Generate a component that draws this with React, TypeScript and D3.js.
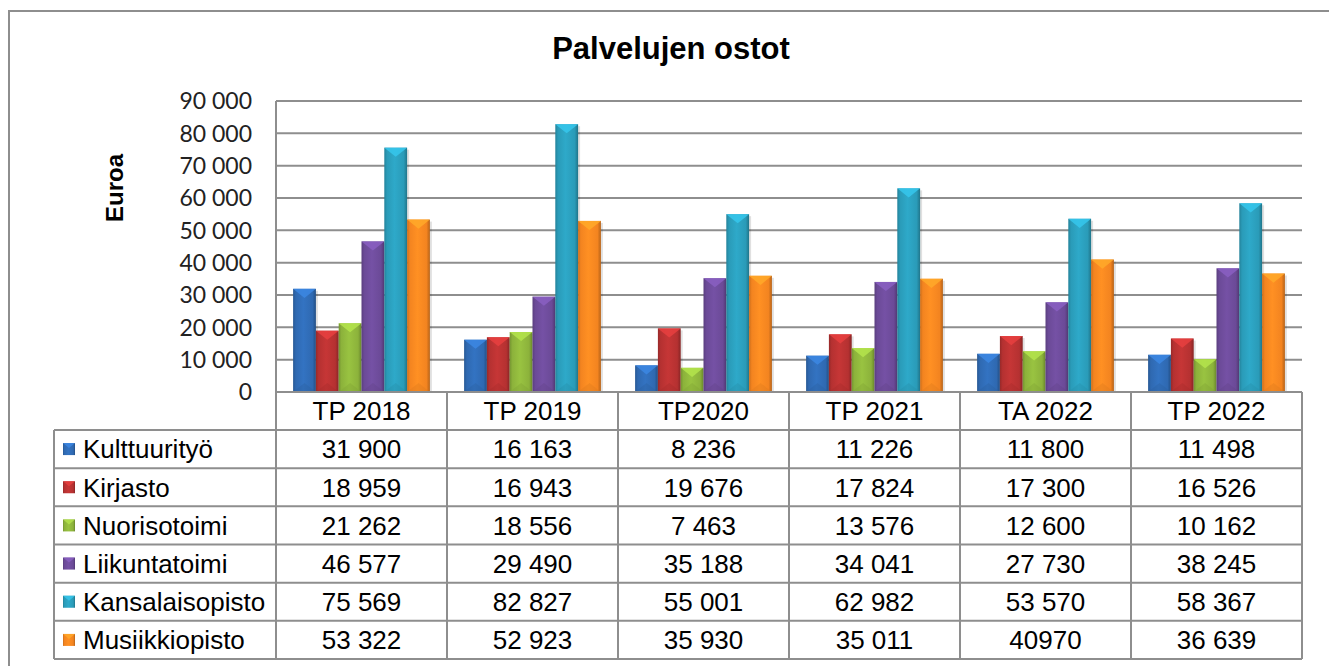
import React from "react";
import * as d3 from "d3";

const width = 1329;
const height = 666;

const categories = ["TP 2018", "TP 2019", "TP2020", "TP 2021", "TA 2022", "TP 2022"];
const seriesNames = [
  "Kulttuurityö",
  "Kirjasto",
  "Nuorisotoimi",
  "Liikuntatoimi",
  "Kansalaisopisto",
  "Musiikkiopisto",
];
const kulttuurityo = [31900, 16163, 8236, 11226, 11800, 11498];
const kirjasto = [18959, 16943, 19676, 17824, 17300, 16526];
const nuorisotoimi = [21262, 18556, 7463, 13576, 12600, 10162];
const liikuntatoimi = [46577, 29490, 35188, 34041, 27730, 38245];
const kansalaisopisto = [75569, 82827, 55001, 62982, 53570, 58367];
const musiikkiopisto = [53322, 52923, 35930, 35011, 40970, 36639];
const seriesColors = ["#2f69b1", "#b53131", "#8cb23b", "#6b4a97", "#2a9bb8", "#f38420"];
const yTicks = [0, 10000, 20000, 30000, 40000, 50000, 60000, 70000, 80000, 90000];
// the source table shows this one cell without a thousands separator
const plainCells = ["Musiikkiopisto|TA 2022"];

const seriesValues = [kulttuurityo, kirjasto, nuorisotoimi, liikuntatoimi, kansalaisopisto, musiikkiopisto];

const plot = { left: 276, right: 1302, top: 101, bottom: 392 };
const table = { left: 54, headerBottom: 430, bottom: 659 };
const gridColor = "#8e8e8e";

const fi = d3.formatLocale({ decimal: ",", thousands: " ", grouping: [3], currency: ["", " €"] });
const fmt = fi.format(",d");

export default function App() {
  const x0 = d3.scaleBand<string>().domain(categories).range([plot.left, plot.right]);
  const bw = x0.bandwidth() / 7.5;
  const x1 = d3
    .scaleBand<string>()
    .domain(seriesNames)
    .range([bw * 0.75, bw * 6.75]);
  const y = d3.scaleLinear().domain([0, 90000]).range([plot.bottom, plot.top]);
  const rowY = d3.scaleBand<string>().domain(seriesNames).range([table.headerBottom, table.bottom]);

  return (
    <svg width={width} height={height} style={{ display: "block", background: "#fff" }}>
      <style>{"body{margin:0}"}</style>
      <defs>
        {seriesColors.map((c, i) => {
          const base = d3.color(c)!;
          return (
            <linearGradient key={i} id={"bar" + i} x1="0" x2="1" y1="0" y2="0">
              <stop offset="0" stopColor={base.darker(0.5).formatHex()} />
              <stop offset="0.12" stopColor={base.formatHex()} />
              <stop offset="0.45" stopColor={base.brighter(0.25).formatHex()} />
              <stop offset="0.85" stopColor={base.formatHex()} />
              <stop offset="1" stopColor={base.darker(0.8).formatHex()} />
            </linearGradient>
          );
        })}
      </defs>

      {/* outer frame */}
      <rect x={9} y={11} width={width} height={height} fill="none" stroke={gridColor} strokeWidth={2} />

      <text
        x={671}
        y={59}
        textAnchor="middle"
        fontFamily="Liberation Sans, Arial, sans-serif"
        fontWeight="bold"
        fontSize={31}
      >
        Palvelujen ostot
      </text>

      <text
        transform="translate(123,188) rotate(-90)"
        textAnchor="middle"
        fontFamily="Liberation Sans, Arial, sans-serif"
        fontWeight="bold"
        fontSize={24}
      >
        Euroa
      </text>

      {/* gridlines and y ticks */}
      {yTicks.map((t) => (
        <g key={t}>
          {t > 0 && (
            <line x1={plot.left} x2={plot.right} y1={y(t)} y2={y(t)} stroke={gridColor} strokeWidth={2} />
          )}
          <text
            x={252}
            y={y(t)}
            dy="0.36em"
            textAnchor="end"
            fontFamily="Lato, sans-serif"
            fontSize={23}
            fill="#222"
          >
            {fmt(t)}
          </text>
        </g>
      ))}

      {/* bars */}
      {categories.map((cat, ci) => (
        <g key={cat} transform={`translate(${x0(cat)},0)`}>
          {seriesNames.map((s, si) => {
            const v = seriesValues[si][ci];
            const bx = x1(s)!;
            const w = x1.bandwidth();
            const top = y(v);
            const base = d3.color(seriesColors[si])!;
            const tri = Math.min(w * 0.4, plot.bottom - top);
            return (
              <g key={s}>
                <rect x={bx + 2} y={top + 2} width={w} height={plot.bottom - top - 2} fill="#000" opacity={0.12} />
                <rect x={bx} y={top} width={w} height={plot.bottom - top} fill={`url(#bar${si})`} />
                <path
                  d={`M${bx},${top}L${bx + w},${top}L${bx + w / 2},${top + tri}Z`}
                  fill={base.brighter(0.7).formatHex()}
                  opacity={0.85}
                />
                <path
                  d={`M${bx},${plot.bottom}L${bx + w},${plot.bottom}L${bx + w / 2},${plot.bottom - tri}Z`}
                  fill={base.darker(0.3).formatHex()}
                  opacity={0.35}
                />
              </g>
            );
          })}
        </g>
      ))}

      {/* axis lines */}
      <line x1={plot.left} x2={plot.left} y1={plot.top} y2={table.bottom} stroke={gridColor} strokeWidth={2} />
      <line x1={plot.left} x2={plot.right} y1={plot.bottom} y2={plot.bottom} stroke={gridColor} strokeWidth={2} />

      {/* data table */}
      <g fontFamily="Liberation Sans, Arial, sans-serif" fontSize={26} fill="#000">
        {categories.map((cat) => (
          <g key={cat}>
            <line
              x1={x0(cat)! + x0.bandwidth()}
              x2={x0(cat)! + x0.bandwidth()}
              y1={plot.bottom}
              y2={table.bottom}
              stroke={gridColor}
              strokeWidth={2}
            />
            <text
              x={x0(cat)! + x0.bandwidth() / 2}
              y={(plot.bottom + table.headerBottom) / 2}
              dy="0.36em"
              textAnchor="middle"
            >
              {cat}
            </text>
          </g>
        ))}
        <line x1={table.left} x2={table.left} y1={table.headerBottom} y2={table.bottom} stroke={gridColor} strokeWidth={2} />
        <line x1={table.left} x2={plot.right} y1={table.headerBottom} y2={table.headerBottom} stroke={gridColor} strokeWidth={2} />
        {seriesNames.map((s, si) => {
          const ry = rowY(s)!;
          const cy = ry + rowY.bandwidth() / 2;
          const base = d3.color(seriesColors[si])!;
          return (
            <g key={s}>
              <line
                x1={table.left}
                x2={plot.right}
                y1={ry + rowY.bandwidth()}
                y2={ry + rowY.bandwidth()}
                stroke={gridColor}
                strokeWidth={2}
              />
              <rect x={63} y={cy - 6} width={12} height={12} fill={`url(#bar${si})`} />
              <path d={`M63,${cy - 6}L75,${cy - 6}L69,${cy - 1}Z`} fill={base.brighter(0.7).formatHex()} opacity={0.8} />
              <text x={83} y={cy} dy="0.36em">
                {s}
              </text>
              {categories.map((cat, ci) => {
                const v = seriesValues[si][ci];
                const label = plainCells.includes(s + "|" + cat) ? String(v) : fmt(v);
                return (
                  <text key={cat} x={x0(cat)! + x0.bandwidth() / 2} y={cy} dy="0.36em" textAnchor="middle">
                    {label}
                  </text>
                );
              })}
            </g>
          );
        })}
      </g>
    </svg>
  );
}
